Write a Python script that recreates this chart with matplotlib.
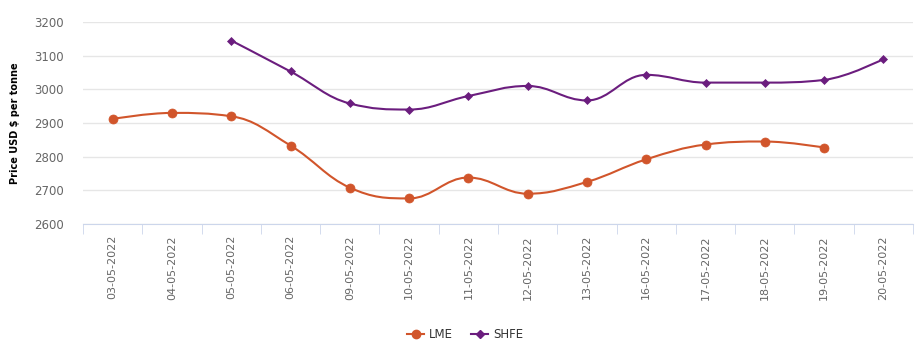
import numpy as np
import matplotlib
matplotlib.use("Agg")
from matplotlib import pyplot as plt
from matplotlib.path import Path
from matplotlib.patches import PathPatch
from matplotlib.lines import Line2D

# data
dates = ["03-05-2022", "04-05-2022", "05-05-2022", "06-05-2022", "09-05-2022",
         "10-05-2022", "11-05-2022", "12-05-2022", "13-05-2022", "16-05-2022",
         "17-05-2022", "18-05-2022", "19-05-2022", "20-05-2022"]
lme = [2912, 2930, 2920, 2833, 2708, 2676, 2738, 2690, 2725, 2792, 2836, 2845, 2827, None]
shfe = [None, None, 3145, 3053, 2958, 2940, 2980, 3010, 2967, 3043, 3020, 3020, 3028, 3090]

lme_color = "#d1552b"
shfe_color = "#6b1d7e"


def spline_path(xs, ys, smoothing=1.5):
    # highcharts-like spline, bezier control points per point
    n = len(xs)
    verts = [(xs[0], ys[0])]
    codes = [Path.MOVETO]
    left = [None] * n
    right = [None] * n
    for i in range(n):
        x, y = xs[i], ys[i]
        if i == 0 or i == n - 1:
            left[i] = (x, y)
            right[i] = (x, y)
            continue
        lx, ly = xs[i - 1], ys[i - 1]
        nx, ny = xs[i + 1], ys[i + 1]
        d = smoothing + 1
        lcx = (smoothing * x + lx) / d
        lcy = (smoothing * y + ly) / d
        rcx = (smoothing * x + nx) / d
        rcy = (smoothing * y + ny) / d
        corr = ((rcy - lcy) * (rcx - x)) / (rcx - lcx) + y - rcy
        lcy += corr
        rcy += corr
        if lcy > ly and lcy > y:
            lcy = max(ly, y); rcy = 2 * y - lcy
        elif lcy < ly and lcy < y:
            lcy = min(ly, y); rcy = 2 * y - lcy
        if rcy > ny and rcy > y:
            rcy = max(ny, y); lcy = 2 * y - rcy
        elif rcy < ny and rcy < y:
            rcy = min(ny, y); lcy = 2 * y - rcy
        left[i] = (lcx, lcy)
        right[i] = (rcx, rcy)
    for i in range(1, n):
        verts += [right[i - 1], left[i], (xs[i], ys[i])]
        codes += [Path.CURVE4] * 3
    return Path(verts, codes)


fig = plt.figure(figsize=(9.17, 3.55), dpi=100)
ax = fig.add_axes([83 / 917, 131 / 355, 830 / 917, 202 / 355])

for vals, color, marker, ms in [(lme, lme_color, "o", 6.5), (shfe, shfe_color, "D", 4.5)]:
    xs = [i for i, v in enumerate(vals) if v is not None]
    ys = [v for v in vals if v is not None]
    ax.add_patch(PathPatch(spline_path(xs, ys), facecolor="none", edgecolor=color, lw=1.5, zorder=3))
    ax.plot(xs, ys, ls="none", marker=marker, ms=ms, mew=0.5, color=color, zorder=4)

ax.set_xlim(-0.5, len(dates) - 0.5)
ax.set_ylim(2600, 3200)
ax.set_yticks(np.arange(2600, 3201, 100))
ax.grid(axis="y", color="#e6e6e6", lw=1)
ax.set_axisbelow(True)

ax.set_xticks(range(len(dates)))
ax.set_xticklabels(dates, rotation=90, color="#666666", fontsize=8)
ax.set_xticks(np.arange(-0.5, len(dates), 1), minor=True)
ax.tick_params(axis="x", which="major", length=0, pad=8)
ax.tick_params(axis="x", which="minor", length=7, color="#ccd6eb")
ax.tick_params(axis="y", length=0, labelcolor="#666666", labelsize=8.5, pad=14)

for s in ["top", "right", "left"]:
    ax.spines[s].set_visible(False)
ax.spines["bottom"].set_color("#ccd6eb")

ax.set_ylabel("Price USD $ per tonne", fontsize=7, fontweight="bold", labelpad=10)

handles = [Line2D([], [], color=lme_color, marker="o", ms=6, lw=1.5),
           Line2D([], [], color=shfe_color, marker="D", ms=4.5, lw=1.5)]
fig.legend(handles, ["LME", "SHFE"], loc="center", bbox_to_anchor=(465 / 917, 1 - 335 / 355),
           ncol=2, frameon=False, fontsize=8.5, handlelength=1.5, handletextpad=0.4,
           columnspacing=1.5, labelcolor="#333333")

fig.savefig("out.png", dpi=100)
